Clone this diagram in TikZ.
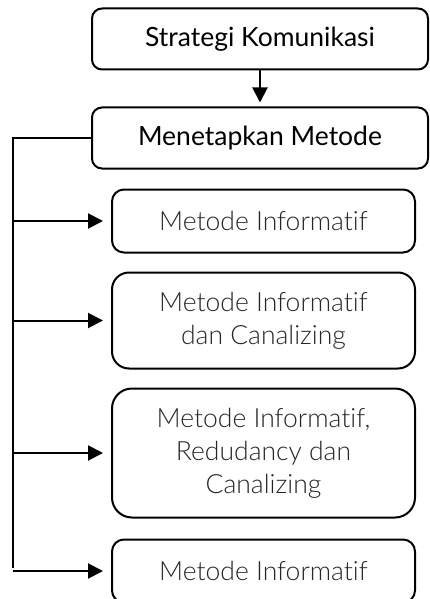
\documentclass[tikz,border=0pt]{standalone}
\usepackage{fontspec}
\setmainfont{Lato}[Ligatures=NoCommon]
\newfontfamily\lightfont{Lato Light}[Ligatures=NoCommon]
\usepackage{tikz}
\usetikzlibrary{shapes.misc, arrows, arrows.meta, positioning, calc}
\tikzset{
  stage/.style={rectangle,draw=black,line width=2pt,rounded corners=10pt,minimum width=336pt,minimum height=61pt,font=\fontsize{26.5}{33}\selectfont},
  method/.style={rectangle,draw=black,line width=2pt,rounded corners=12pt,minimum width=303pt,minimum height=63pt,align=center,text=black!85,font=\lightfont\fontsize{26.5}{33}\selectfont},
  link/.style={line width=2pt,black},
  flow/.style={link,-{Triangle[length=15pt,width=15pt]}},
}
\begin{document}
\begin{tikzpicture}
	    \useasboundingbox (0,0) rectangle (429pt,-599pt);
	    \node[stage] (strategi) at (260pt,-39pt) {Strategi Komunikasi};
	    \node[stage,below=36pt of strategi] (metode) {Menetapkan Metode};
	    \node[method,below=19pt of metode,xshift=3.5pt] (m1) {Metode Informatif};
	    \node[method,below=18pt of m1,minimum height=96pt,rounded corners=17pt] (m2) {Metode Informatif\\dan Canalizing};
	    \node[method,below=18pt of m2,minimum height=129pt,rounded corners=20pt] (m3) {Metode Informatif,\\Redudancy dan\\Canalizing};
	    \node[method,below=20pt of m3] (m4) {Metode Informatif};
	    \coordinate (trunk) at (13pt,0);
	    \draw[flow] (strategi) -- ([yshift=4pt]metode.north);
	    \draw[link] (metode.west) -- (metode.west -| trunk) -- ([yshift=3pt]m4.west -| trunk);
	    \foreach \m in {m1,m2,m3,m4}
	        \draw[flow] (\m.west -| trunk) -- ([xshift=-8pt]\m.west);
	\end{tikzpicture}
\end{document}
